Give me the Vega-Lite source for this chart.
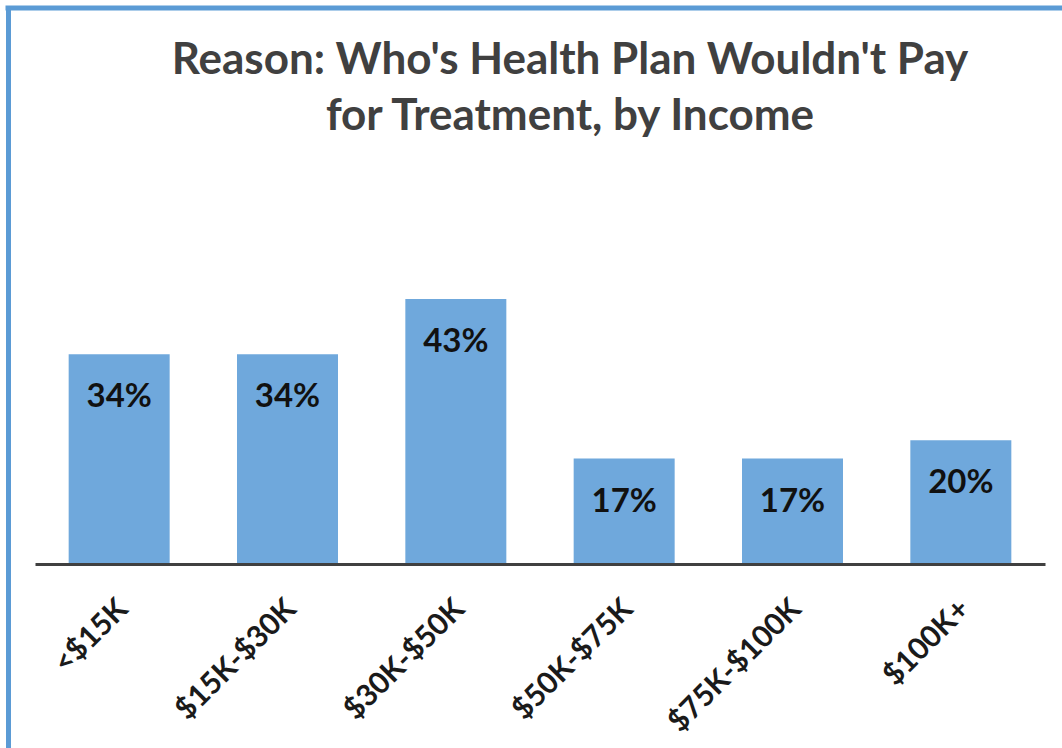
{
  "$schema": "https://vega.github.io/schema/vega-lite/v6.json",
  "width": 1054,
  "height": 740,
  "autosize": "none",
  "padding": {"left": 8, "top": 8, "right": 0, "bottom": 0},
  "background": "white",
  "config": {"view": {"stroke": null}, "font": "Lato"},
  "title": {
    "text": ["Reason: Who's Health Plan Wouldn't Pay", "for Treatment, by Income"],
    "anchor": "middle",
    "frame": "group",
    "offset": 0,
    "dx": 35,
    "dy": 170,
    "baseline": "alphabetic",
    "lineHeight": 56,
    "font": "Lato",
    "fontSize": 44,
    "fontWeight": "bold",
    "color": "#404040"
  },
  "data": {
    "values": [
      {"income": "<$15K", "pct": 0.34},
      {"income": "$15K-$30K", "pct": 0.34},
      {"income": "$30K-$50K", "pct": 0.43},
      {"income": "$50K-$75K", "pct": 0.17},
      {"income": "$75K-$100K", "pct": 0.17},
      {"income": "$100K+", "pct": 0.20}
    ]
  },
  "layer": [
    {
      "mark": {"type": "bar", "color": "#6fa8dc"},
      "encoding": {
        "x": {
          "field": "income",
          "type": "nominal",
          "sort": null,
          "scale": {"range": [27, 1037], "paddingInner": 0.4, "paddingOuter": 0.2},
          "axis": {
            "orient": "bottom",
            "offset": -184,
            "title": null,
            "domainColor": "#404040",
            "domainWidth": 3,
            "ticks": false,
            "tickSize": 0,
            "labelAngle": -45,
            "labelAlign": "right",
            "labelBaseline": "middle",
            "labelPadding": 40,
            "labelOffset": 4,
            "labelFont": "Lato",
            "labelFontSize": 30,
            "labelFontWeight": "bold",
            "labelColor": "#1a1a1a"
          }
        },
        "y": {
          "field": "pct",
          "type": "quantitative",
          "scale": {"domain": [-0.3013, 0.9039], "nice": false, "zero": false},
          "axis": {
            "orient": "left",
            "title": null,
            "labels": false,
            "ticks": false,
            "grid": false,
            "domain": true,
            "domainColor": "#5b9bd5",
            "domainWidth": 5
          }
        },
        "y2": {"datum": 0}
      }
    },
    {
      "mark": {"type": "text", "baseline": "alphabetic", "dy": 53, "font": "Lato", "fontSize": 33, "fontWeight": "bold", "color": "#111111"},
      "encoding": {
        "x": {"field": "income", "type": "nominal", "sort": null},
        "y": {"field": "pct", "type": "quantitative"},
        "text": {"field": "pct", "type": "quantitative", "format": ".0%"}
      }
    },
    {
      "data": {"values": [{"edge": 0.9039}]},
      "mark": {"type": "rule", "color": "#5b9bd5", "strokeWidth": 5, "strokeCap": "square"},
      "encoding": {"y": {"field": "edge", "type": "quantitative"}}
    }
  ]
}
